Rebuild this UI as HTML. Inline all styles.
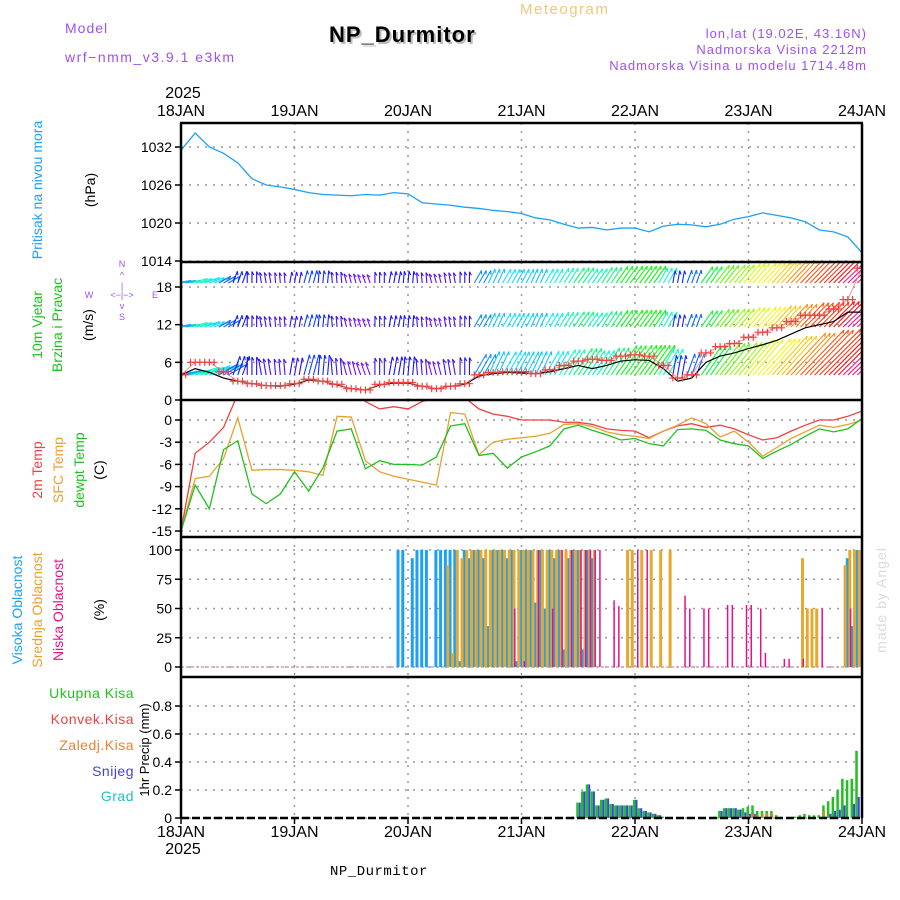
<!DOCTYPE html>
<html><head><meta charset="utf-8"><title>Meteogram NP_Durmitor</title>
<style>
html,body{margin:0;padding:0;background:#fff;}
svg{display:block;font-family:"Liberation Sans",sans-serif;}
</style></head>
<body>
<svg id="chart" width="900" height="900" viewBox="0 0 900 900">
<defs>
<clipPath id="cpP"><rect x="181" y="123" width="681" height="139"/></clipPath>
<clipPath id="cpW"><rect x="181" y="262" width="681" height="138"/></clipPath>
<clipPath id="cpT"><rect x="181" y="400" width="681" height="137"/></clipPath>
</defs>
<g>
<text x="65" y="33" font-size="14" fill="#a050f0" letter-spacing="1">Model</text>
<text x="65" y="62" font-size="14" fill="#a050f0" letter-spacing="1.5">wrf−nmm_v3.9.1 e3km</text>
<text x="520" y="14" font-size="15" fill="#f0c878" letter-spacing="1.5">Meteogram</text>
<text x="331" y="44" font-size="22" font-weight="bold" fill="#bbb" letter-spacing="1">NP_Durmitor</text>
<text x="329" y="42" font-size="22" font-weight="bold" fill="#000" letter-spacing="1">NP_Durmitor</text>
<text x="867" y="38" font-size="13" fill="#a050f0" text-anchor="end" letter-spacing="1">lon,lat (19.02E, 43.16N)</text>
<text x="867" y="54" font-size="13" fill="#a050f0" text-anchor="end" letter-spacing="1">Nadmorska Visina 2212m</text>
<text x="867" y="70" font-size="13" fill="#a050f0" text-anchor="end" letter-spacing="1">Nadmorska Visina u modelu 1714.48m</text>
<text x="183" y="98" font-size="16" fill="#000" text-anchor="middle">2025</text>
<text x="330" y="875" font-size="14" fill="#000" font-family="Liberation Mono, monospace" letter-spacing="0.5">NP_Durmitor</text>
<text transform="translate(886,600) rotate(-90)" font-size="14" fill="#d8ddd8" text-anchor="middle" letter-spacing="1">made by Angel</text>
</g>
<g>
<text transform="translate(42,190) rotate(-90)" font-size="14" fill="#1ea0f5" text-anchor="middle">Pritisak na nivou mora</text>
<text transform="translate(95,190) rotate(-90)" font-size="14" fill="#000" text-anchor="middle">(hPa)</text>
<text transform="translate(42,325) rotate(-90)" font-size="14" fill="#20c020" text-anchor="middle">10m Vjetar</text>
<text transform="translate(62,325) rotate(-90)" font-size="14" fill="#20c020" text-anchor="middle">Brzina i Pravac</text>
<text transform="translate(93,325) rotate(-90)" font-size="14" fill="#000" text-anchor="middle">(m/s)</text>
<g font-size="9" fill="#a050f0" text-anchor="middle">
<text x="122" y="267">N</text><text x="122" y="278">^</text><text x="122" y="289">|</text>
<text x="89" y="298">W</text><text x="122" y="298">&lt;−|−&gt;</text><text x="155" y="298">E</text>
<text x="122" y="309">v</text><text x="122" y="320">S</text>
</g>
<text transform="translate(42,470) rotate(-90)" font-size="14" fill="#f04040" text-anchor="middle">2m Temp</text>
<text transform="translate(63,470) rotate(-90)" font-size="14" fill="#e8a030" text-anchor="middle">SFC Temp</text>
<text transform="translate(84,470) rotate(-90)" font-size="14" fill="#20c020" text-anchor="middle">dewpt Temp</text>
<text transform="translate(104,470) rotate(-90)" font-size="14" fill="#000" text-anchor="middle">(C)</text>
<text transform="translate(22,610) rotate(-90)" font-size="14" fill="#1ea0f5" text-anchor="middle">Visoka Oblacnost</text>
<text transform="translate(42,610) rotate(-90)" font-size="14" fill="#e8a030" text-anchor="middle">Srednja Oblacnost</text>
<text transform="translate(63,610) rotate(-90)" font-size="14" fill="#e8108a" text-anchor="middle">Niska Oblacnost</text>
<text transform="translate(104,610) rotate(-90)" font-size="14" fill="#000" text-anchor="middle">(%)</text>
<g font-size="14" text-anchor="end" letter-spacing="0.5">
<text x="134" y="698" fill="#20c020">Ukupna Kisa</text>
<text x="134" y="724" fill="#f04040">Konvek.Kisa</text>
<text x="134" y="750" fill="#f08030">Zaledj.Kisa</text>
<text x="134" y="776" fill="#4040f0">Snijeg</text>
<text x="134" y="801" fill="#20c0c0">Grad</text>
</g>
<text transform="translate(149,750) rotate(-90)" font-size="13" fill="#000" text-anchor="middle">1hr Precip (mm)</text>
</g>
<g id="plot"></g>
</svg>
<script>
// ---- data ----
const dayLabels = ["18JAN","19JAN","20JAN","21JAN","22JAN","23JAN","24JAN"];
const pressure = [1031.5,1034.2,1032,1031,1029.5,1027,1026,1025.7,1025.3,1024.8,1024.5,1024.4,1024.3,1024.5,1024.4,1024.8,1024.6,1023.2,1023,1022.8,1022.5,1022.3,1022,1021.8,1021.5,1020.8,1020.5,1019.8,1019.2,1019.3,1018.9,1019.2,1019.2,1018.6,1019.5,1019.8,1019.7,1019.4,1019.8,1020.6,1021,1021.6,1021.2,1020.8,1020.2,1018.9,1018.6,1017.8,1015.3];
const pressureTicks = [1014,1020,1026,1032];
const windSpeed = [4,5,4.4,3.5,3,2.6,2.3,2.2,2.5,3.2,3,2.4,1.8,1.6,2.4,2.7,2.7,2.2,1.8,2.2,2.5,3.8,4.2,4.4,4.3,4.2,4.5,5,5.5,5,5.5,6.2,6.4,6.3,5,3,3.5,6,7,7.5,8.2,8.8,9.5,10.5,11.5,12,12.5,14,14];
const windGust = [4,6,6,4.5,3,2.6,2.3,2.3,2.6,3.3,3,2.5,1.8,1.6,2.5,2.8,2.8,2.2,1.8,2.2,2.6,4,4.4,4.5,4.5,4.2,4.8,5.5,6.2,6.5,6.3,7,7.2,7,5.5,3.5,4,7.5,8.5,9,10,10.8,11.5,12.5,13.5,13.5,14.5,16,21];
const windDir = [80,75,70,60,20,0,-10,-5,10,15,5,-5,-15,-20,0,10,5,-5,-15,-10,0,30,25,30,28,25,30,32,35,35,33,35,36,35,30,10,20,35,38,40,40,42,42,43,44,45,45,46,46];
const windTicks = [0,6,12,18];
const temp2m = [-15,-4.5,-3,-1,3.5,5,5,5,4.5,4.5,5,5,4,2.5,1.5,1.8,1.5,2.5,3,4,3,1.5,0.8,0.5,0,0,0,-0.3,-0.3,-0.6,-1.2,-1.4,-1.5,-2.4,-1.5,-0.8,-0.5,-1,-0.7,-1.2,-2,-2.7,-2.4,-1.5,-0.7,0,0,0.5,1.2];
const tempSfc = [-15,-7.9,-7.6,-5.2,0.3,-6.8,-6.7,-6.7,-6.8,-7,-7.5,0.5,0.4,-5.5,-7,-7.6,-8,-8.4,-8.8,1,0.8,-4.7,-3,-2.6,-2.4,-2.2,-1.8,-0.6,-0.5,-0.9,-1.6,-2,-2.2,-2.5,-1.5,-0.7,0.3,-0.5,-2.3,-1.5,-3,-4.9,-3.7,-2.5,-1.6,-0.7,-1,-0.6,0];
const tempDew = [-15,-8.8,-12,-4,-2.8,-10,-11.3,-10,-7,-9.6,-6.5,-1.5,-1.2,-6.6,-5.5,-6,-6,-6.1,-5,-0.8,-0.5,-4.8,-4.5,-6.5,-5,-4.3,-3.5,-1.2,-0.7,-1.4,-2,-2.7,-2.5,-3.2,-3.5,-1.3,-1.2,-1.4,-2.7,-3.2,-3.5,-5.2,-4.2,-3.3,-2.2,-1.2,-1.6,-1.2,0.2];
const tempTicks = [-15,-12,-9,-6,-3,0];
const hiHours = [46,47,49,50,51,52,54,55,56,57,58,59,60,61,62,63,64,65,66,67,68,69,70,71,72,73,74,75,76,77,78,79,80,81,82,83,84,85,86,87,141,142,143];
const hiValues = [100,100,93,100,100,100,100,100,100,100,100,5,100,93,100,100,93,35,100,100,100,93,100,5,100,100,100,55,100,50,100,93,100,15,93,100,100,15,100,93,93,35,100];
const midHours = [56,57,58,59,60,61,62,63,64,65,66,67,68,69,70,71,72,73,74,75,76,77,78,79,80,81,82,83,84,85,86,87,94,95,97,99,101,103,131,132,133,134,140,141,142,143];
const midValues = [87,12,100,93,100,100,100,100,100,100,100,100,100,100,100,100,100,100,100,100,100,100,100,100,100,100,100,100,100,100,100,100,100,100,100,100,100,100,93,50,50,50,87,100,100,100];
const lowHours = [70,72,75,78,80,82,84,85,86,87,88,91,92,96,98,106,107,110,111,115,116,119,120,122,123,127,128,131,135,141];
const lowValues = [50,5,100,50,100,100,100,100,100,100,100,57,52,100,100,61,50,50,50,53,53,53,53,50,12,7,7,7,50,50];
const cloudTicks = [0,25,50,75,100];
const precipHours = [83,84,85,86,87,88,89,90,91,92,93,94,95,96,97,98,99,100,101,102,113,114,115,116,117,118,119,120,121,122,123,124,125,126,130,131,132,133,134,135,136,137,138,139,140,141,142,143];
const precipTotal = [.01,.11,.19,.24,.19,.09,.13,.14,.10,.09,.09,.09,.09,.13,.07,.05,.04,.03,.02,.01,.01,.05,.07,.07,.07,.06,.07,.08,.09,.05,.05,.05,.05,.02,.01,.02,.03,.02,.02,.02,.09,.12,.15,.20,.28,.27,.28,.48];
const precipSnow = [0,.11,.19,.24,.19,.09,.13,.14,.10,.09,.09,.09,.09,.13,.07,.05,.04,.03,.02,0,0,.05,.07,.07,.07,.06,.04,.03,.03,0,0,0,0,0,0,0,0,0,0,0,0,.03,.05,.06,.09,0,.1,.15];
const precipFrozen = [0,0,0,0,0,0,0,0,0,0,0,0,0,0,0,0,0,0,0,0,0,0,0,0,0,0,.02,.02,.03,.02,.03,.03,.03,0,0,0,0,0,0,0,.05,0,0,0,0,0,0,0];
const precipTicks = [0,0.2,0.4,0.6,0.8];

// ---- scales ----
const X0=181, X1=862, NH=144;
const xH = h => X0 + h*(X1-X0)/NH;
const x3 = i => xH(i*3);
const yP = v => 147 + (1032-v)*(114/18);
const yW = v => 400 - v*(113/18);
const yT = v => 420 - v*(111/15);
const yC = v => 667 - v*1.17;
const yR = v => 818 - v*140;

const NS="http://www.w3.org/2000/svg";
const plot=document.getElementById('plot');
function mk(tag, attrs, parent){const e=document.createElementNS(NS,tag);for(const k in attrs)e.setAttribute(k,attrs[k]);(parent||plot).appendChild(e);return e;}

// grid + panels
const panels=[{t:123,b:262,ticks:pressureTicks,f:yP,n:'pressure'},{t:262,b:400,ticks:windTicks,f:yW,n:'wind'},{t:400,b:537,ticks:tempTicks,f:yT,n:'temp'},{t:537,b:677,ticks:cloudTicks,f:yC,n:'cloud'},{t:677,b:818,ticks:precipTicks,f:yR,n:'precip'}];
panels.forEach(p=>{
  const g=mk('g',{});
  
  
  for(let d=1;d<6;d++){mk('line',{x1:xH(d*24),x2:xH(d*24),y1:p.t,y2:p.b,stroke:'#999','stroke-width':1.5,'stroke-dasharray':'2,6'},g);}
  p.ticks.forEach(v=>{
    const y=p.f(v);
    mk('line',{x1:X0,x2:X1,y1:y,y2:y,stroke:'#999','stroke-width':1.5,'stroke-dasharray':'2,6'},g);
    mk('line',{x1:X0-6,x2:X0,y1:y,y2:y,stroke:'#000','stroke-width':1.5},g);
    const t=mk('text',{x:X0-9,y:y+5,'font-size':14,'text-anchor':'end',fill:'#000'},g);
    t.textContent = p.n==='precip' ? (v===0?'0':v.toFixed(1)) : String(v);
  });
});

// pressure line
const pl=mk('polyline',{points:pressure.map((v,i)=>x3(i)+','+yP(v)).join(' '),fill:'none',stroke:'#1ea0f5','stroke-width':1.3,'clip-path':'url(#cpP)'});



// wind arrows
function windColor(s){const stops=[[1.5,270],[3,235],[4.3,190],[6,130],[8,70],[10,40],[12,10],[14,-30]];let h=stops[0][1];for(let i=1;i<stops.length;i++){if(s<=stops[i][0]){const a=stops[i-1],b=stops[i];h=a[1]+(b[1]-a[1])*(s-a[0])/(b[0]-a[0]);break;}h=stops[i][1];}return 'hsl('+((h+360)%360)+',95%,52%)';}
const wg=mk('g',{'clip-path':'url(#cpW)'});


[283,327,375].forEach((base,r)=>{
  windSpeed.forEach((s,i)=>{
    [-4.7,0,4.7].forEach(off=>{
      const len=5+s*(r===2?5:2.5);
      const a=windDir[i]*Math.PI/180;
      const x=x3(i)+off, x2=x+Math.sin(a)*len, y2=base-Math.cos(a)*len;
      const c=windColor(s);
      const ar=mk('line',{x1:x,y1:base,x2:x2,y2:y2,stroke:c,'stroke-width':1.1},wg);
      
      
      mk('line',{x1:x2,y1:y2,x2:x2-Math.sin(a-0.5)*4,y2:y2+Math.cos(a-0.5)*4,stroke:c,'stroke-width':1.1},wg);
    });
  });
});
const ws=mk('polyline',{points:windSpeed.map((v,i)=>x3(i)+','+yW(v)).join(' '),fill:'none',stroke:'#000','stroke-width':1.2,'clip-path':'url(#cpW)'});


const gg=mk('g',{'clip-path':'url(#cpW)',stroke:'#f04040','stroke-width':1.2});


mk('polyline',{points:windGust.map((v,i)=>x3(i)+','+yW(v)).join(' '),fill:'none','stroke-width':0.8,stroke:'#f08080'},gg);
windGust.forEach((v,i)=>{const x=x3(i),y=yW(v);
  [-4.7,0,4.7].forEach(off=>{
    const m=mk('path',{d:`M${x+off-3.5},${y}h7M${x+off},${y-3.5}v7`},gg);
    
    
  });
});

// temperatures
[[temp2m,'#f04040','temp-2m-line'],[tempSfc,'#e8a030','temp-sfc-line'],[tempDew,'#20c020','dewpoint-line']].forEach(([arr,c,n])=>{
  const l=mk('polyline',{points:arr.map((v,i)=>x3(i)+','+yT(v)).join(' '),fill:'none',stroke:c,'stroke-width':1.3,'clip-path':'url(#cpT)'});
  
  
});

// cloud bars
mk('line',{x1:X0,x2:X1,y1:yC(0),y2:yC(0),stroke:'#d0a0c0','stroke-width':1.5,'stroke-dasharray':'3,2'});
[[hiHours,hiValues,'#1ea0f5',-2,3,'high-cloud-bar'],[midHours,midValues,'#e8a830',0.5,3,'mid-cloud-bar'],[lowHours,lowValues,'#e8108a',2,1.5,'low-cloud-bar']].forEach(([hs,vs,c,off,w,n])=>{
  hs.forEach((h,i)=>{const y=yC(vs[i]);
    const b=mk('rect',{x:xH(h)+off,y:y,width:w,height:yC(0)-y,fill:c});
    
    
  });
});

// precip bars
precipHours.forEach((h,i)=>{
  const x=xH(h);
  [[precipTotal[i],'#20c020',-2,2.5,'precip-total-bar'],[precipSnow[i],'#4040f0',0.5,2,'precip-snow-bar'],[precipFrozen[i],'#f08030',-1,2,'precip-frozen-bar']].forEach(([v,c,o,w,n])=>{
    if(v<=0)return;const y=yR(v);
    const b=mk('rect',{x:x+o,y:y,width:w,height:818-y,fill:c});
    
    
  });
});

// frames
const fr=mk('g',{});


[123,262,400,537,677].forEach(y=>mk('line',{x1:X0-1,x2:X1+1,y1:y,y2:y,stroke:'#000','stroke-width':2.5},fr));
mk('line',{x1:X0,x2:X0,y1:123,y2:818,stroke:'#000','stroke-width':2.5},fr);
mk('line',{x1:X1,x2:X1,y1:123,y2:818,stroke:'#000','stroke-width':2.5},fr);
mk('line',{x1:X0,x2:X1,y1:818,y2:818,stroke:'#000','stroke-width':2.5,'stroke-dasharray':'8,3'},fr);

// day labels
dayLabels.forEach((d,i)=>{
  const x=xH(i*24);
  const t1=mk('text',{x:x,y:116,'font-size':16,'text-anchor':'middle',fill:'#000'});
  t1.textContent=d;
  
  
  const t2=mk('text',{x:x,y:837,'font-size':16,'text-anchor':'middle',fill:'#000'});
  t2.textContent=d;
  
  
  mk('line',{x1:x,x2:x,y1:818,y2:824,stroke:'#000','stroke-width':1.5});
});
const yb=mk('text',{x:183,y:854,'font-size':16,'text-anchor':'middle',fill:'#000'});
yb.textContent='2025';


</script>
</body></html>
